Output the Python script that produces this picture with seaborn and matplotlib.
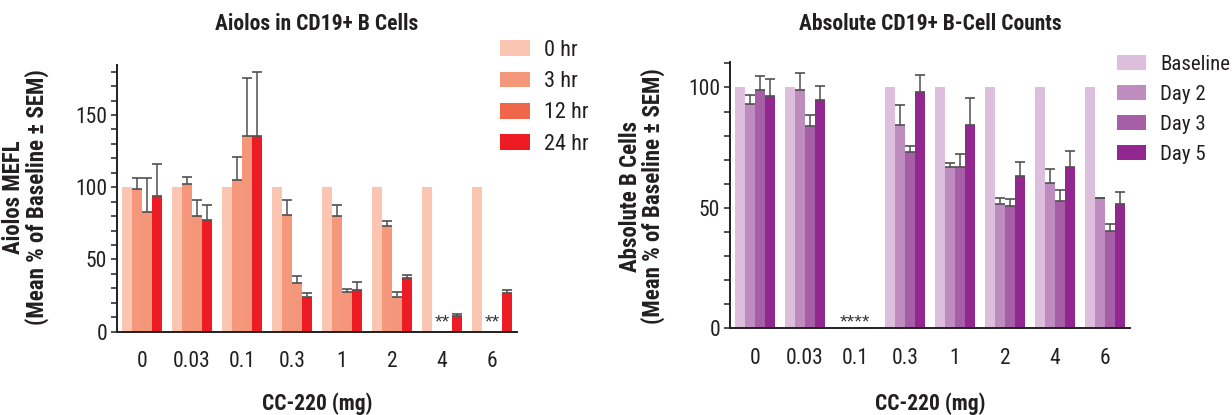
import numpy as np
import pandas as pd
import matplotlib
matplotlib.use("Agg")
import matplotlib.pyplot as plt
import seaborn as sns
from matplotlib.patches import Patch
from matplotlib import font_manager as fm
from matplotlib.transforms import offset_copy

# ---------------- data ----------------
doses = ["0", "0.03", "0.1", "0.3", "1", "2", "4", "6"]

aiolos_levels = ["0 hr", "3 hr", "12 hr", "24 hr"]
aiolos_0hr = [100, 100, 100, 100, 100, 100, 100, 100]
aiolos_3hr = [98.5, 102.2, 105.2, 81.0, 80.0, 73.3, np.nan, np.nan]
aiolos_12hr = [83.0, 80.3, 135.5, 33.5, 27.7, 24.2, np.nan, np.nan]
aiolos_24hr = [94.2, 77.5, 135.5, 24.0, 28.8, 37.2, 11.1, 27.0]
aiolos_0hr_sem = [np.nan] * 8
aiolos_3hr_sem = [8.0, 5.0, 15.5, 10.4, 7.7, 3.5, np.nan, np.nan]
aiolos_12hr_sem = [23.6, 10.9, 40.0, 5.3, 1.6, 3.0, np.nan, np.nan]
aiolos_24hr_sem = [21.7, 10.4, 44.5, 3.0, 5.6, 2.3, 1.1, 1.7]
aiolos_note_doses = ["4", "6"]
aiolos_note_text = "**"
aiolos_note_y = 10.4

bcell_levels = ["Baseline", "Day 2", "Day 3", "Day 5"]
bcell_baseline = [100, 100, np.nan, 100, 100, 100, 100, 100]
bcell_day2 = [93.1, 99.0, np.nan, 84.5, 66.8, 51.6, 60.4, 53.9]
bcell_day3 = [99.0, 83.8, np.nan, 73.3, 66.8, 50.9, 52.8, 40.4]
bcell_day5 = [96.3, 94.9, np.nan, 98.3, 84.6, 63.3, 66.8, 51.5]
bcell_baseline_sem = [np.nan] * 8
bcell_day2_sem = [3.6, 7.2, np.nan, 8.3, 1.7, 2.3, 5.6, 0.3]
bcell_day3_sem = [5.6, 4.7, np.nan, 2.6, 5.5, 2.8, 4.6, 2.9]
bcell_day5_sem = [7.2, 5.8, np.nan, 7.0, 11.2, 5.7, 6.8, 5.2]
bcell_note_doses = ["0.1"]
bcell_note_text = "****"
bcell_note_y = 4.8

# ---------------- style ----------------
aiolos_bar_colors = ["#FAC6B1", "#F4977B", "#F4967A", "#ED1C24"]
aiolos_legend_colors = ["#FAC6B1", "#F4977B", "#F0664B", "#ED1C24"]
bcell_colors = ["#DDBFDD", "#BF8CBF", "#A65FA6", "#92278F"]
INK = "#231F20"
ERR = "#505050"


def has_font(name):
    try:
        fm.findfont(fm.FontProperties(family=name), fallback_to_default=False)
        return True
    except Exception:
        return False


NARROW = "DejaVu Sans"
for cand in ["Liberation Sans Narrow", "Roboto Condensed", "Archivo Narrow",
             "PT Sans Narrow", "Arimo"]:
    if has_font(cand):
        NARROW = cand
        break
FAM = [NARROW, "DejaVu Sans"]

sns.set_theme(style="ticks")
plt.rcParams["font.family"] = FAM
plt.rcParams["text.color"] = INK
plt.rcParams["axes.labelcolor"] = INK
plt.rcParams["xtick.color"] = INK
plt.rcParams["ytick.color"] = INK

W, H = 1232, 415
fig = plt.figure(figsize=(W / 100, H / 100), dpi=100)


def fx(px):
    return px / W


def fy(py):
    return 1 - py / H


def draw_panel(ax, levels, means, sems, colors, ytop, major, minor, note_doses, note_text, note_y):
    rows = []
    for lev, mvals, svals in zip(levels, means, sems):
        for d, m, s in zip(doses, mvals, svals):
            rows.append({"dose": d, "level": lev, "value": m, "sem": s})
    df = pd.DataFrame(rows)
    plot_df = df.dropna(subset=["value"])
    sns.barplot(data=plot_df, x="dose", y="value", hue="level", order=doses,
                hue_order=levels, palette=dict(zip(levels, colors)), saturation=1,
                errorbar=None, width=0.8, dodge=True, linewidth=0, edgecolor="none",
                legend=False, ax=ax, zorder=2)
    nlev = len(levels)
    step = 0.8 / nlev
    for bar in list(ax.patches):
        cx = bar.get_x() + bar.get_width() / 2
        h = bar.get_height()
        ci = int(round(cx))
        li = int(round((cx - ci + 0.4) / step - 0.5))
        sel = df[(df.dose == doses[ci]) & (df.level == levels[li])]["sem"]
        s = sel.iloc[0] if len(sel) else np.nan
        if np.isfinite(s) and np.isfinite(h):
            ax.errorbar(cx, h, yerr=[[0], [s]], fmt="none", ecolor=ERR,
                        elinewidth=1.1, capsize=3.3, capthick=1.2, zorder=3)
    sns.despine(ax=ax)
    ax.set_xlim(-0.5, len(doses) - 0.5)
    ax.set_ylim(0, ytop)
    ax.set_yticks(major)
    ax.set_yticks(minor, minor=True)
    ax.set_xlabel("")
    ax.set_ylabel("")
    for sp in ("left", "bottom"):
        ax.spines[sp].set_color(INK)
        ax.spines[sp].set_linewidth(1.4)
    ax.tick_params(axis="x", length=0, pad=14, labelsize=15.5)
    ax.tick_params(axis="y", which="both", length=4.5, width=1.1, pad=2.5,
                   labelsize=15.5)
    fs = 14
    tr = offset_copy(ax.transData, fig=fig, y=-0.3 * fs, units="points")
    for d in note_doses:
        ax.text(doses.index(d), note_y, note_text, ha="center", va="center",
                fontsize=fs, family=["Liberation Sans", "DejaVu Sans"],
                color="#333333", transform=tr, zorder=4)


# left panel
axL = fig.add_axes([fx(117), fy(331.7), 400 / W, (331.7 - 65) / H])
draw_panel(axL, aiolos_levels,
           [aiolos_0hr, aiolos_3hr, aiolos_12hr, aiolos_24hr],
           [aiolos_0hr_sem, aiolos_3hr_sem, aiolos_12hr_sem, aiolos_24hr_sem],
           aiolos_bar_colors, 184.6, [0, 50, 100, 150], list(range(10, 181, 10)),
           aiolos_note_doses, aiolos_note_text, aiolos_note_y)

# right panel
axR = fig.add_axes([fx(730), fy(328.3), 400 / W, (328.3 - 61.7) / H])
draw_panel(axR, bcell_levels,
           [bcell_baseline, bcell_day2, bcell_day3, bcell_day5],
           [bcell_baseline_sem, bcell_day2_sem, bcell_day3_sem, bcell_day5_sem],
           bcell_colors, 110.7, [0, 50, 100], list(range(10, 111, 10)),
           bcell_note_doses, bcell_note_text, bcell_note_y)

# titles and axis titles
bold = dict(fontweight="bold", color=INK)
fig.text(fx(317), fy(30), "Aiolos in CD19+ B Cells", ha="center", va="baseline",
         fontsize=15.5, **bold)
fig.text(fx(930), fy(30), "Absolute CD19+ B-Cell Counts", ha="center", va="baseline",
         fontsize=15.5, **bold)
fig.text(fx(317), fy(410), "CC-220 (mg)", ha="center", va="baseline",
         fontsize=15.5, **bold)
fig.text(fx(930), fy(410), "CC-220 (mg)", ha="center", va="baseline",
         fontsize=15.5, **bold)
fig.text(fx(49), fy(197), "Aiolos MEFL\n(Mean % of Baseline ± SEM)", rotation=90,
         ha="right", va="center", multialignment="center", linespacing=1.0,
         fontsize=16.5, **bold)
fig.text(fx(665), fy(196), "Absolute B Cells\n(Mean % of Baseline ± SEM)", rotation=90,
         ha="right", va="center", multialignment="center", linespacing=0.95,
         fontsize=16.5, **bold)

# legends
lfs = 16
lpx = lfs * 100 / 72
hL = [Patch(facecolor=c, edgecolor="none") for c in aiolos_legend_colors]
fig.legend(hL, aiolos_levels, loc="upper left", bbox_to_anchor=(fx(500), fy(40)),
           frameon=False, fontsize=lfs, handlelength=30 / lpx, handleheight=16 / lpx,
           handletextpad=14 / lpx, labelspacing=0.46, borderpad=0, borderaxespad=0)
rfs = 15
rpx = rfs * 100 / 72
hR = [Patch(facecolor=c, edgecolor="none") for c in bcell_colors]
fig.legend(hR, bcell_levels, loc="upper left", bbox_to_anchor=(fx(1117), fy(55)),
           frameon=False, fontsize=rfs, handlelength=29 / rpx, handleheight=15 / rpx,
           handletextpad=14 / rpx, labelspacing=0.52, borderpad=0, borderaxespad=0)

fig.savefig("out.png", dpi=100)
